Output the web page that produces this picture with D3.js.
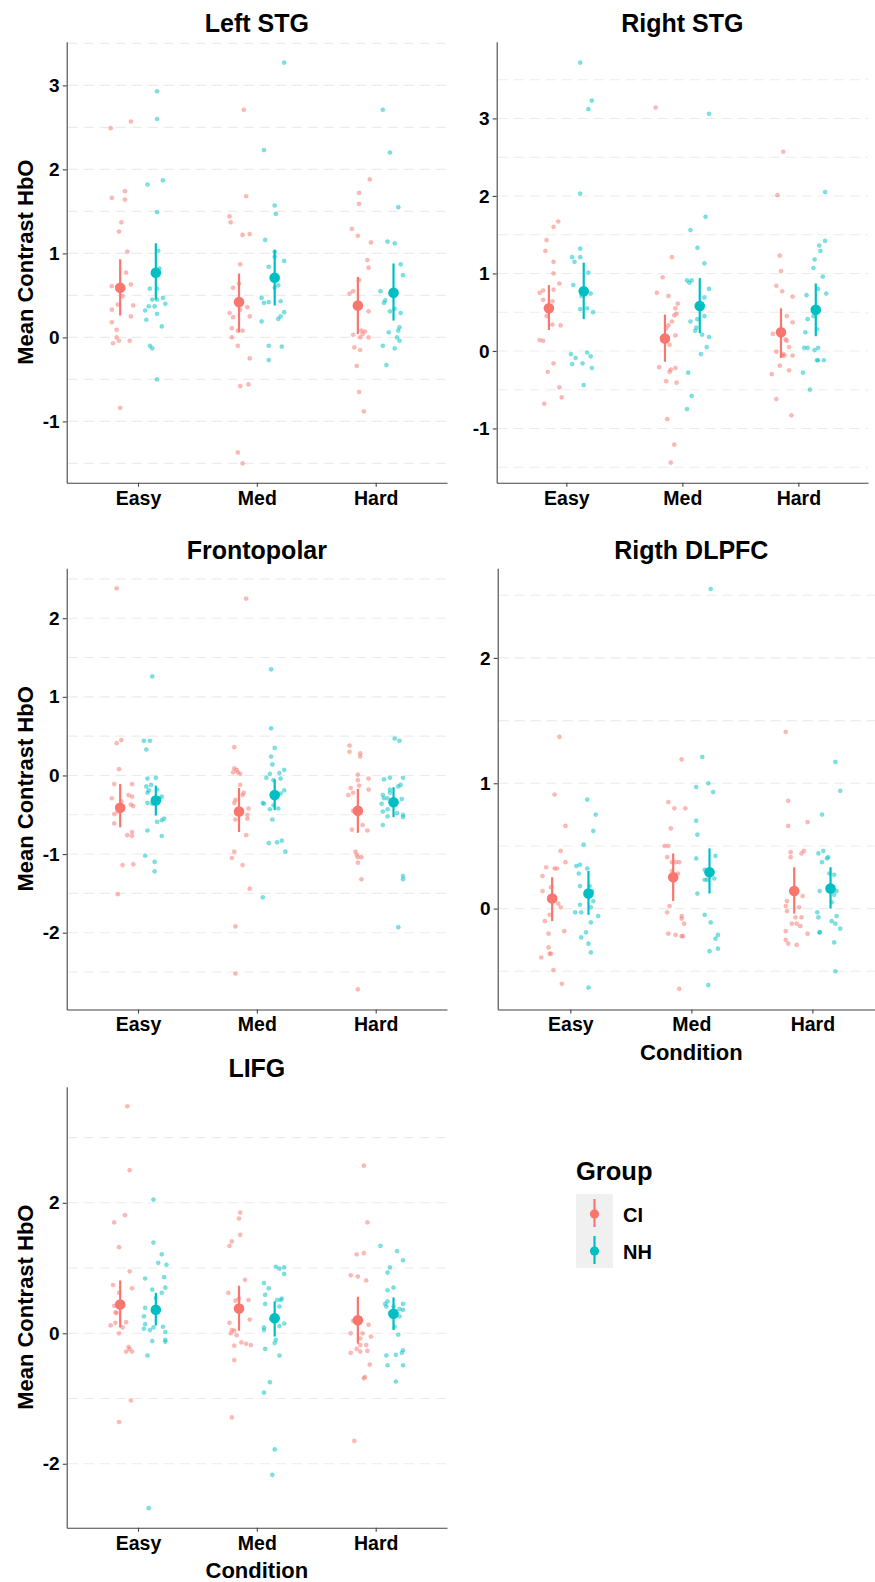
<!DOCTYPE html>
<html lang="en">
<head>
<meta charset="UTF-8">
<title>Mean Contrast HbO by Condition and Group</title>
<script src="https://cdn.jsdelivr.net/npm/d3@7"></script>
<style>
  body { margin: 0; background: #fff; }
  svg { display: block; font-family: Arial, "Liberation Sans", sans-serif; }
  .tick text { font-weight: bold; fill: #000; }
</style>
</head>
<body>
<svg id="chart" width="875" height="1582"></svg>
<script>
// ---- data ----
const conditions = ["Easy", "Med", "Hard"];
const groups = ["CI", "NH"];
const groupColors = ["#F8766D", "#00BFC4"];

// individual subjects: [horizontal jitter (category units), value], one list per condition
const leftStgCI = [
  [[-0.08,2.49],[0.09,2.57],[-0.07,1.66],[0.04,1.74],[0.04,1.64],[0.01,1.37],[-0.01,1.26],[0.06,1.02],[0.05,0.77],[-0.07,0.61],[0.09,0.63],[0.02,0.49],[-0.02,0.39],[0.11,0.38],[-0.07,0.33],[0.09,0.25],[-0.07,0.18],[-0.03,0.09],[-0.03,0.00],[-0.01,-0.04],[-0.06,-0.07],[0.08,-0.04],[0,-0.84]],
  [[0.04,2.71],[0.06,1.68],[-0.08,1.44],[-0.07,1.37],[0.03,1.22],[0.09,1.23],[0.01,0.87],[-0.05,0.59],[0,0.64],[0.07,0.36],[-0.08,0.29],[-0.05,0.24],[0.09,0.25],[0.01,0.33],[-0.06,0.11],[-0.01,0.08],[0.03,0.08],[-0.06,0.00],[-0.01,-0.10],[0.09,-0.25],[0.01,-0.58],[0.08,-0.56],[-0.01,-1.37],[0.03,-1.50]],
  [[0.10,1.88],[0.01,1.72],[0.01,1.59],[-0.05,1.29],[0,1.21],[0.11,1.13],[0.08,0.92],[0.09,0.83],[0.01,0.68],[-0.07,0.52],[-0.04,0.55],[0.09,0.31],[-0.04,0.03],[0.03,0.08],[0.06,0.07],[0.04,0.04],[0.02,0.00],[0.09,0.00],[-0.03,-0.12],[0.02,-0.15],[-0.01,-0.34],[0.01,-0.65],[0.05,-0.88]]
];
const leftStgNH = [
  [[0.01,2.93],[0.01,2.60],[-0.07,1.82],[0.06,1.87],[0.01,1.49],[0.02,1.03],[0.03,0.82],[-0.05,0.58],[0.01,0.58],[-0.03,0.45],[0.01,0.45],[0.06,0.47],[0.08,0.40],[-0.06,0.37],[-0.01,0.37],[-0.09,0.32],[0.01,0.28],[-0.08,0.21],[0.05,0.13],[-0.05,-0.10],[-0.03,-0.13],[0.01,-0.50]],
  [[0.08,3.27],[-0.09,2.23],[0,1.57],[0.01,1.47],[-0.08,1.16],[0,1.02],[0,0.96],[0.08,0.91],[-0.05,0.84],[0.03,0.62],[0,0.59],[-0.11,0.47],[-0.09,0.41],[-0.05,0.42],[0.05,0.43],[0.05,0.25],[0.08,0.30],[0.03,0.22],[-0.11,0.19],[-0.05,-0.10],[0.06,-0.11],[-0.05,-0.27]],
  [[-0.09,2.71],[-0.03,2.20],[0.04,1.55],[-0.05,1.14],[0.01,1.12],[0.06,0.87],[0.08,0.74],[-0.11,0.55],[-0.07,0.44],[-0.08,0.41],[0.01,0.34],[-0.03,0.31],[0.06,0.29],[0.05,0.12],[0.04,0.08],[-0.04,0.06],[0.03,0.00],[0.05,-0.04],[-0.09,-0.10],[0.01,-0.13],[-0.06,-0.33]]
];
const rightStgCI = [
  [[0.08,1.67],[0.04,1.60],[-0.02,1.43],[-0.03,1.29],[0.04,1.15],[0.04,1.00],[0.09,0.87],[0.04,0.79],[-0.05,0.78],[-0.08,0.75],[-0.05,0.66],[0.03,0.64],[-0.02,0.45],[0.03,0.34],[0.10,0.33],[-0.08,0.14],[-0.05,0.13],[0.04,-0.16],[-0.01,-0.27],[0.09,-0.47],[0.11,-0.60],[-0.04,-0.68]],
  [[-0.08,3.14],[0.06,1.21],[-0.02,0.95],[-0.07,0.75],[0.03,0.71],[0.11,0.61],[0.09,0.55],[0.10,0.48],[0.08,0.46],[0.06,0.38],[0.03,0.33],[0.01,0.29],[0.09,0.20],[0.04,0.08],[-0.05,-0.21],[0.09,-0.22],[0.05,-0.24],[0.04,-0.27],[0.01,-0.39],[0.10,-0.41],[0.02,-0.88],[0.08,-1.21],[0.05,-1.44]],
  [[0.02,2.57],[-0.03,2.01],[-0.01,1.23],[0,1.03],[-0.04,0.84],[0.01,0.77],[0.10,0.70],[0.05,0.45],[0.10,0.37],[-0.07,0.22],[0.04,0.15],[0.05,0.13],[0.07,0.05],[-0.04,-0.01],[0.02,-0.04],[0.01,-0.06],[0.03,-0.06],[0.10,-0.06],[-0.01,-0.19],[0.07,-0.25],[-0.08,-0.30],[-0.04,-0.62],[0.09,-0.83]]
];
const rightStgNH = [
  [[-0.03,3.72],[0.07,3.23],[0.04,3.12],[-0.03,2.03],[-0.03,1.32],[-0.10,1.21],[-0.03,1.21],[-0.08,1.15],[0.04,1.01],[-0.09,0.85],[0.06,0.74],[-0.02,0.71],[0.03,0.55],[-0.03,0.54],[0.08,0.50],[-0.11,-0.04],[0.03,-0.02],[-0.07,-0.09],[0.06,-0.07],[-0.10,-0.17],[-0.01,-0.16],[0.07,-0.22],[0,-0.44]],
  [[0.08,3.06],[0.05,1.73],[-0.08,1.56],[-0.02,1.33],[0.04,1.13],[-0.11,0.91],[-0.07,0.91],[-0.09,0.88],[0.08,0.80],[0.04,0.69],[0.04,0.45],[-0.02,0.41],[-0.08,0.38],[-0.03,0.30],[-0.04,0.26],[0.02,0.21],[0.08,0.18],[0.06,0.05],[0.01,-0.04],[-0.10,-0.28],[-0.07,-0.58],[-0.11,-0.75]],
  [[0.08,2.05],[0.08,1.42],[0.03,1.36],[0.04,1.29],[-0.01,1.18],[-0.02,1.07],[0.06,0.96],[0.02,0.80],[0.09,0.74],[-0.08,0.72],[-0.02,0.45],[-0.07,0.41],[-0.09,0.24],[0.01,0.28],[-0.10,0.04],[-0.07,0.04],[0.02,0.04],[-0.01,0.01],[0.01,-0.12],[0.02,-0.12],[0.07,-0.12],[-0.11,-0.28],[-0.05,-0.50]]
];
const frontoCI = [
  [[-0.03,2.38],[0.01,0.45],[-0.03,0.41],[-0.01,0.08],[-0.05,-0.11],[0.10,-0.11],[0.07,-0.25],[0.10,-0.27],[-0.07,-0.29],[0.01,-0.33],[0.09,-0.37],[0.11,-0.39],[-0.02,-0.46],[-0.05,-0.49],[-0.05,-0.61],[0.06,-0.76],[0.10,-0.72],[0.10,-0.77],[0.02,-1.14],[0.11,-1.13],[-0.02,-1.51]],
  [[0.06,2.25],[-0.04,0.36],[-0.04,0.09],[-0.05,0.04],[-0.02,0.07],[-0.01,0.04],[0.01,0.02],[0.01,-0.12],[0.04,-0.22],[0.03,-0.25],[-0.03,-0.31],[-0.04,-0.35],[0.08,-0.42],[0.07,-0.50],[0.07,-0.55],[-0.03,-0.56],[0.06,-0.76],[-0.04,-0.97],[-0.06,-1.05],[0.03,-1.14],[0.09,-1.44],[-0.03,-1.92],[-0.03,-2.52]],
  [[-0.07,0.38],[-0.07,0.30],[0.02,0.28],[0.02,0.24],[0,0.01],[0,-0.06],[0.09,-0.04],[0.01,-0.13],[-0.06,-0.16],[0.09,-0.18],[-0.04,-0.22],[-0.08,-0.25],[-0.04,-0.45],[0.04,-0.63],[-0.05,-0.69],[0.08,-0.70],[-0.02,-0.97],[-0.01,-1.01],[0,-1.04],[0.03,-1.04],[0,-1.11],[0.03,-1.32],[0,-2.72]]
];
const frontoNH = [
  [[-0.03,1.26],[-0.10,0.44],[-0.05,0.44],[-0.08,0.33],[-0.07,-0.04],[0,-0.03],[-0.08,-0.14],[-0.04,-0.12],[-0.06,-0.19],[0.01,-0.18],[-0.07,-0.22],[0.05,-0.27],[0.03,-0.29],[-0.07,-0.35],[-0.03,-0.36],[0.07,-0.55],[0.05,-0.57],[0.01,-0.59],[-0.07,-0.70],[0.05,-0.77],[-0.09,-1.02],[-0.01,-1.10],[-0.01,-1.22]],
  [[-0.03,1.35],[-0.03,0.60],[0,0.35],[-0.03,0.24],[-0.02,0.14],[0.08,0.07],[0.04,0.03],[-0.04,0.02],[-0.07,-0.03],[0.05,-0.04],[-0.01,-0.06],[0.08,-0.19],[0.05,-0.23],[-0.10,-0.35],[-0.09,-0.36],[-0.01,-0.38],[0.03,-0.42],[-0.04,-0.43],[-0.02,-0.56],[-0.05,-0.86],[0.02,-0.85],[0.06,-0.83],[0.09,-0.97],[-0.10,-1.55]],
  [[0.01,0.47],[0.05,0.44],[0.08,-0.03],[-0.08,-0.05],[-0.03,-0.03],[0.06,-0.12],[0.04,-0.14],[-0.09,-0.25],[-0.03,-0.18],[-0.03,-0.22],[-0.08,-0.29],[-0.05,-0.29],[0.07,-0.30],[-0.10,-0.36],[-0.05,-0.43],[-0.09,-0.46],[0.03,-0.48],[0.08,-0.50],[0.08,-0.53],[-0.05,-0.52],[-0.09,-0.63],[0.08,-1.28],[0.08,-1.32],[0.04,-1.93]]
];
const dlpfcCI = [
  [[0.06,1.37],[0.02,0.91],[0.11,0.66],[0.07,0.46],[0.11,0.37],[-0.05,0.33],[0.02,0.32],[0.04,0.32],[-0.08,0.26],[-0.01,0.17],[-0.08,0.14],[0.05,0.04],[0.07,0.01],[-0.02,-0.05],[-0.06,-0.10],[0.10,-0.18],[-0.03,-0.20],[-0.03,-0.31],[-0.02,-0.36],[-0.01,-0.36],[-0.09,-0.39],[0.01,-0.49],[0.08,-0.60]],
  [[0.07,1.19],[-0.04,0.85],[0.01,0.80],[0.10,0.80],[-0.02,0.64],[-0.07,0.50],[-0.04,0.50],[-0.05,0.41],[-0.01,0.37],[0.02,0.37],[0.05,0.37],[-0.01,0.30],[0.04,0.28],[-0.03,0.02],[-0.05,-0.03],[0.07,-0.06],[0.07,-0.08],[0.09,-0.12],[-0.04,-0.20],[0.02,-0.21],[0.07,-0.22],[0.08,-0.22],[0.05,-0.64]],
  [[-0.07,1.41],[-0.05,0.86],[-0.05,0.66],[0.11,0.69],[-0.03,0.45],[-0.03,0.41],[0.06,0.44],[0.08,0.46],[0.07,0.10],[-0.06,0.06],[-0.07,0.02],[0.04,0.01],[-0.06,-0.02],[0.01,-0.07],[0.06,-0.07],[-0.02,-0.12],[0.02,-0.12],[0.05,-0.14],[-0.07,-0.18],[0.11,-0.20],[-0.07,-0.25],[-0.05,-0.28],[0.02,-0.29]]
];
const dlpfcNH = [
  [[-0.01,0.87],[0.06,0.75],[0.04,0.62],[-0.04,0.51],[-0.10,0.34],[-0.07,0.35],[-0.01,0.32],[-0.08,0.28],[-0.07,0.18],[0.01,0.18],[0.03,0.14],[0.04,0.06],[-0.07,0.03],[0.02,0.01],[-0.11,-0.03],[-0.06,-0.03],[0.08,-0.06],[0.02,-0.11],[-0.02,-0.19],[-0.06,-0.23],[0,-0.28],[0.02,-0.35],[0,-0.63]],
  [[0.01,2.55],[-0.06,1.21],[-0.01,1.00],[-0.11,0.97],[0.03,0.93],[-0.11,0.70],[-0.10,0.59],[-0.11,0.40],[0.05,0.42],[-0.04,0.31],[-0.04,0.23],[-0.02,0.23],[0.04,0.24],[-0.10,0.12],[-0.04,-0.05],[0.01,-0.11],[0.07,-0.21],[0.05,-0.24],[0,-0.34],[0.07,-0.32],[-0.01,-0.61]],
  [[0.04,1.17],[0.08,0.94],[-0.07,0.75],[-0.10,0.44],[-0.06,0.46],[-0.03,0.40],[-0.02,0.41],[-0.07,0.37],[-0.01,0.28],[0.03,0.27],[-0.09,0.14],[0.05,0.14],[0.03,0.11],[0.01,0.05],[-0.11,-0.03],[-0.10,-0.07],[0.05,-0.06],[0.01,-0.10],[0.04,-0.12],[0.08,-0.16],[-0.09,-0.19],[-0.09,-0.19],[0.03,-0.27],[0.04,-0.50]]
];
const lifgCI = [
  [[0.06,3.48],[0.08,2.50],[0.04,1.81],[-0.05,1.70],[-0.01,1.32],[0.08,0.95],[-0.06,0.74],[0.10,0.69],[-0.01,0.62],[-0.05,0.42],[-0.04,0.32],[-0.03,0.31],[0.05,0.17],[-0.04,0.16],[-0.08,0.12],[0.02,0.09],[-0.01,0.00],[0.07,-0.21],[0.08,-0.24],[0.05,-0.28],[0.10,-0.28],[0.09,-1.03],[-0.01,-1.36]],
  [[0.01,1.85],[0,1.76],[0.01,1.51],[-0.06,1.41],[-0.08,1.34],[0.05,0.82],[-0.09,0.62],[-0.03,0.50],[0,0.53],[0.08,0.51],[0.09,0.21],[-0.08,0.16],[-0.06,0.05],[-0.04,0.04],[-0.07,0.00],[-0.02,-0.03],[0.02,-0.14],[0.06,-0.16],[0.10,-0.18],[-0.04,-0.19],[-0.04,-0.41],[-0.06,-1.29]],
  [[0.05,2.57],[0.08,1.70],[-0.01,1.21],[0.05,1.23],[-0.06,0.89],[0,0.87],[0.07,0.81],[-0.04,0.19],[0.09,0.13],[-0.06,0.00],[0.04,0.00],[0.02,-0.08],[0.11,-0.05],[0.02,-0.18],[0.07,-0.18],[-0.01,-0.24],[0.08,-0.27],[0.02,-0.28],[-0.06,-0.30],[0.10,-0.48],[0.06,-0.67],[0.05,-0.69],[-0.03,-1.65]]
];
const lifgNH = [
  [[-0.02,2.05],[-0.02,1.39],[0.05,1.21],[0.09,1.05],[0.02,1.08],[-0.09,0.84],[0.07,0.86],[0.08,0.70],[-0.03,0.67],[0.05,0.62],[0,0.54],[-0.09,0.39],[-0.10,0.26],[-0.09,0.14],[-0.10,0.07],[-0.02,0.09],[0.06,0.10],[-0.05,0.05],[0.08,0.02],[0.08,-0.10],[-0.03,-0.12],[0.08,-0.13],[-0.07,-0.34],[-0.06,-2.68]],
  [[0.01,1.02],[0.04,0.99],[0.08,1.01],[0.08,0.91],[-0.09,0.77],[-0.05,0.69],[-0.08,0.59],[0.02,0.51],[0.05,0.51],[0.06,0.53],[-0.08,0.45],[0.04,0.41],[-0.03,0.22],[0.08,0.15],[0.04,0.11],[-0.09,0.09],[-0.09,0.05],[0.01,-0.10],[0,-0.15],[-0.08,-0.24],[0.04,-0.34],[-0.04,-0.75],[-0.09,-0.91],[0,-1.78],[-0.02,-2.17]],
  [[-0.11,1.34],[0.03,1.26],[0.08,1.12],[-0.03,1.01],[-0.05,0.93],[0,0.70],[-0.05,0.66],[-0.05,0.49],[-0.07,0.45],[-0.06,0.41],[0.08,0.45],[0,0.41],[0.05,0.37],[0.08,0.36],[-0.03,0.31],[0.05,0.26],[0.01,0.10],[0.04,-0.02],[0.08,-0.26],[0.07,-0.30],[-0.06,-0.34],[0.02,-0.33],[-0.05,-0.49],[0.08,-0.49],[0.02,-0.74]]
];

// group means and interval ends per condition (Easy, Med, Hard)
const leftStgMean = [[0.59, 0.42, 0.38], [0.77, 0.71, 0.53]];
const leftStgLow  = [[0.26, 0.06, 0.04], [0.45, 0.38, 0.20]];
const leftStgHigh = [[0.93, 0.76, 0.72], [1.12, 1.04, 0.88]];
const rightStgMean = [[0.55, 0.16, 0.24], [0.77, 0.58, 0.53]];
const rightStgLow  = [[0.27, -0.14, -0.09], [0.41, 0.23, 0.19]];
const rightStgHigh = [[0.85, 0.47, 0.55], [1.14, 0.94, 0.87]];
const frontoMean = [[-0.41, -0.46, -0.45], [-0.32, -0.25, -0.34]];
const frontoLow  = [[-0.66, -0.72, -0.73], [-0.51, -0.44, -0.53]];
const frontoHigh = [[-0.11, -0.16, -0.17], [-0.13, -0.05, -0.15]];
const dlpfcMean = [[0.08, 0.25, 0.14], [0.12, 0.29, 0.16]];
const dlpfcLow  = [[-0.10, 0.06, -0.04], [-0.05, 0.12, 0.00]];
const dlpfcHigh = [[0.25, 0.44, 0.33], [0.30, 0.48, 0.33]];
const lifgMean = [[0.44, 0.38, 0.20], [0.36, 0.23, 0.30]];
const lifgLow  = [[0.09, 0.04, -0.16], [0.12, -0.05, 0.05]];
const lifgHigh = [[0.81, 0.73, 0.56], [0.62, 0.49, 0.55]];

const titles = ["Left STG", "Right STG", "Frontopolar", "Rigth DLPFC", "LIFG"];
const yTickValues = [[-1, 0, 1, 2, 3], [-1, 0, 1, 2, 3], [-2, -1, 0, 1, 2], [0, 1, 2], [-2, 0, 2]];

// ---- panel layout (pixels) ----
const panels = [
  { pts: [leftStgCI, leftStgNH], mean: leftStgMean, lo: leftStgLow, hi: leftStgHigh,
    x0: 66.7, x1: 447, y0: 41.7, y1: 482.7, yDom: [-1.73, 3.52], grid: 0.5, yTitle: true, xTitle: false },
  { pts: [rightStgCI, rightStgNH], mean: rightStgMean, lo: rightStgLow, hi: rightStgHigh,
    x0: 496.7, x1: 868, y0: 41.7, y1: 482.7, yDom: [-1.70, 3.99], grid: 0.5, yTitle: false, xTitle: false },
  { pts: [frontoCI, frontoNH], mean: frontoMean, lo: frontoLow, hi: frontoHigh,
    x0: 66.7, x1: 447, y0: 568.3, y1: 1009.5, yDom: [-2.977, 2.635], grid: 0.5, yTitle: true, xTitle: false },
  { pts: [dlpfcCI, dlpfcNH], mean: dlpfcMean, lo: dlpfcLow, hi: dlpfcHigh,
    x0: 497.7, x1: 885, y0: 568.3, y1: 1009.5, yDom: [-0.805, 2.715], grid: 0.5, yTitle: false, xTitle: true },
  { pts: [lifgCI, lifgNH], mean: lifgMean, lo: lifgLow, hi: lifgHigh,
    x0: 66.7, x1: 447, y0: 1086.7, y1: 1527.7, yDom: [-2.98, 3.78], grid: 1, yTitle: true, xTitle: true }
];

const dodge = [-0.15, 0.15];
const svg = d3.select("#chart");

panels.forEach((p, pi) => {
  const x = d3.scalePoint().domain(conditions).range([p.x0, p.x1]).padding(0.6);
  const y = d3.scaleLinear().domain(p.yDom).range([p.y1, p.y0]);
  const step = x.step();
  const g = svg.append("g");

  // dashed horizontal grid
  const gridVals = d3.range(Math.ceil(p.yDom[0] / p.grid) * p.grid, p.yDom[1] + 1e-9, p.grid);
  g.selectAll("line.grid").data(gridVals).join("line")
    .attr("class", "grid")
    .attr("x1", p.x0 + 1).attr("x2", p.x1)
    .attr("y1", d => y(d)).attr("y2", d => y(d))
    .attr("stroke", "#ebebeb").attr("stroke-width", 1.1)
    .attr("stroke-dasharray", "10,6");

  // jittered subject points
  groups.forEach((grp, gi) => {
    conditions.forEach((c, ci) => {
      const cx = x(c) + dodge[gi] * step;
      g.selectAll(null).data(p.pts[gi][ci]).join("circle")
        .attr("cx", d => cx + d[0] * step)
        .attr("cy", d => y(d[1]))
        .attr("r", 2.1)
        .attr("fill", groupColors[gi]).attr("fill-opacity", 0.5)
        .attr("stroke", groupColors[gi]).attr("stroke-opacity", 0.35).attr("stroke-width", 0.6);
    });
  });

  // mean + interval
  groups.forEach((grp, gi) => {
    conditions.forEach((c, ci) => {
      const cx = x(c) + dodge[gi] * step;
      g.append("line")
        .attr("x1", cx).attr("x2", cx)
        .attr("y1", y(p.lo[gi][ci])).attr("y2", y(p.hi[gi][ci]))
        .attr("stroke", groupColors[gi]).attr("stroke-width", 2.2);
      g.append("circle")
        .attr("cx", cx).attr("cy", y(p.mean[gi][ci]))
        .attr("r", 5.3).attr("fill", groupColors[gi]);
    });
  });

  // axes
  const yAxis = g.append("g").attr("transform", `translate(${p.x0},0)`)
    .call(d3.axisLeft(y).tickValues(yTickValues[pi]).tickSize(4).tickSizeOuter(0).tickPadding(3).tickFormat(d => String(d)));
  yAxis.selectAll("text").attr("font-size", 19);
  const xAxis = g.append("g").attr("transform", `translate(0,${p.y1})`)
    .call(d3.axisBottom(x).tickSize(4).tickSizeOuter(0).tickPadding(4));
  xAxis.selectAll("text").attr("font-size", 19.5);
  [yAxis, xAxis].forEach(a => {
    a.select(".domain").attr("stroke", "#444").attr("stroke-width", 1.1);
    a.selectAll(".tick line").attr("stroke", "#444").attr("stroke-width", 1.1);
  });

  // title
  g.append("text")
    .attr("x", (p.x0 + p.x1) / 2).attr("y", p.y0 - 9.5)
    .attr("text-anchor", "middle").attr("font-weight", "bold").attr("font-size", 25)
    .text(titles[pi]);

  if (p.yTitle) {
    g.append("text")
      .attr("transform", `translate(33,${(p.y0 + p.y1) / 2}) rotate(-90)`)
      .attr("text-anchor", "middle").attr("font-weight", "bold").attr("font-size", 22)
      .text("Mean Contrast HbO");
  }
  if (p.xTitle) {
    g.append("text")
      .attr("x", (p.x0 + p.x1) / 2).attr("y", p.y1 + 50.5)
      .attr("text-anchor", "middle").attr("font-weight", "bold").attr("font-size", 22)
      .text("Condition");
  }
});

// legend
const legend = svg.append("g").attr("transform", "translate(576,1180)");
legend.append("text").attr("x", 0).attr("y", 0)
  .attr("font-weight", "bold").attr("font-size", 25.5).text("Group");
groups.forEach((grp, gi) => {
  const top = 14 + gi * 37;
  const k = legend.append("g").attr("transform", `translate(0,${top})`);
  k.append("rect").attr("width", 37).attr("height", 37).attr("fill", "#f0f0f0");
  k.append("line").attr("x1", 18.5).attr("x2", 18.5).attr("y1", 5).attr("y2", 33)
    .attr("stroke", groupColors[gi]).attr("stroke-width", 2.2);
  k.append("circle").attr("cx", 18.5).attr("cy", 20).attr("r", 4.6).attr("fill", groupColors[gi]);
  k.append("text").attr("x", 47).attr("y", 28)
    .attr("font-weight", "bold").attr("font-size", 20).text(grp);
});
</script>
</body>
</html>
